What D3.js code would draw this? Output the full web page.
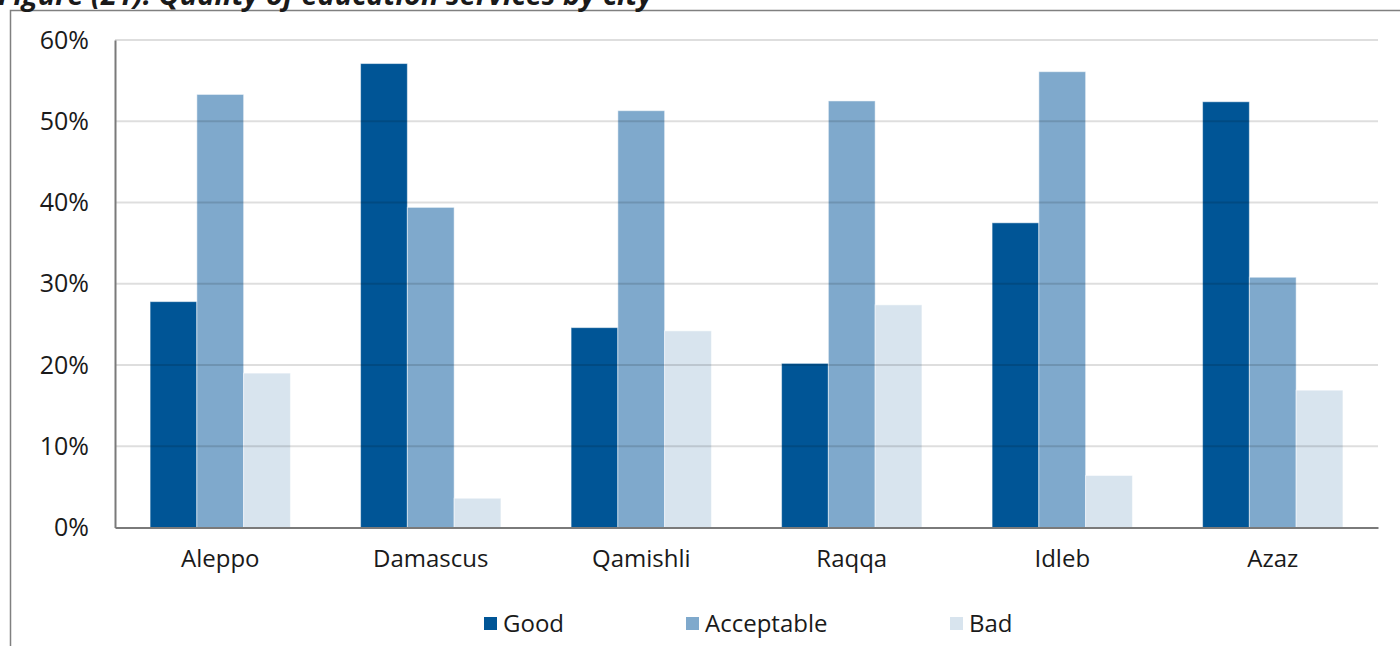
<!DOCTYPE html>
<head>
  <meta charset="utf-8">
  <script src="https://cdn.jsdelivr.net/npm/d3@7"></script>
  <style>
    body { margin: 0; background: white; }
    text { font-family: "Open Sans", "Noto Sans", sans-serif; fill: #1a1a1a; }
    .frame { fill: none; stroke: #808080; stroke-width: 1.5; }
  </style>
</head>

<body>
  <script>
const W = 1400;
const H = 646;

// data (percent)
const cities = ["Aleppo", "Damascus", "Qamishli", "Raqqa", "Idleb", "Azaz"];
const series = ["Good", "Acceptable", "Bad"];
const good = [27.8, 57.1, 24.6, 20.2, 37.5, 52.4];
const acceptable = [53.3, 39.4, 51.3, 52.5, 56.1, 30.8];
const bad = [19.0, 3.6, 24.2, 27.4, 6.4, 16.9];
const yTicks = [0, 10, 20, 30, 40, 50, 60];
const colors = ["#005596", "#7fa9cc", "#d8e4ee"];
const title = "Figure (21): Quality of education services by city";

const values = [good, acceptable, bad];
const rows = cities.map((c, i) => ({city: c, vals: series.map((s, k) => ({key: s, v: values[k][i], k: k}))}));

const PL = 115, PR = 1378, PT = 40, PB = 527.5;

var svg = d3.select("body").append("svg")
  .attr("width", W)
  .attr("height", H);

//frame (left + top edges only, cut off by the picture)
svg.append("path")
  .attr("class", "frame")
  .attr("d", "M10.5," + H + "V10.5H" + W);

//title, mostly cropped off at the top (as in the source picture)
svg.append("text")
  .attr("x", -2)
  .attr("y", 5)
  .style("font-size", "29px")
  .style("font-weight", "bold")
  .style("font-style", "italic")
  .text(title);

var x0 = d3.scaleBand()
  .domain(cities)
  .range([PL, PR])
  .padding(0);

var x1 = d3.scaleBand()
  .domain(series)
  .range([0, x0.bandwidth()])
  .paddingInner(0)
  .paddingOuter(0.75);

var y = d3.scaleLinear()
  .domain([0, 60])
  .range([PB, PT]);

// bars
var groups = svg.append("g").selectAll("g")
  .data(rows)
  .join("g")
  .attr("transform", d => "translate(" + x0(d.city) + ",0)");

groups.selectAll("rect")
  .data(d => d.vals)
  .join("rect")
  .attr("x", d => x1(d.key))
  .attr("y", d => y(d.v))
  .attr("width", x1.bandwidth())
  .attr("height", d => y(0) - y(d.v))
  .attr("fill", d => colors[d.k])
  .attr("stroke", "rgba(255,255,255,0.5)")
  .attr("stroke-width", 1);

// gridlines sit on top of the bars, semi transparent
svg.append("g").selectAll("line")
  .data(yTicks.filter(t => t > 0))
  .join("line")
  .attr("x1", PL)
  .attr("x2", PR)
  .attr("y1", d => y(d))
  .attr("y2", d => y(d))
  .attr("stroke", "rgba(0,0,0,0.13)")
  .attr("stroke-width", 2);

// y axis
var yaxis = d3.axisLeft(y)
  .tickValues(yTicks)
  .tickFormat(d => d + "%")
  .tickSize(0)
  .tickPadding(26);

var yg = svg.append("g")
  .attr("transform", "translate(" + PL + ",0)")
  .call(yaxis);
yg.select(".domain").attr("stroke", "#7a7a7a").attr("stroke-width", 2);
yg.selectAll("text")
  .style("font-size", "25px")
  .style("font-family", null)
  .attr("fill", "#1a1a1a");

// x axis
var xaxis = d3.axisBottom(x0)
  .tickSize(0)
  .tickPadding(22);

var xg = svg.append("g")
  .attr("transform", "translate(0," + PB + ")")
  .call(xaxis);
xg.select(".domain").attr("stroke", "#7a7a7a").attr("stroke-width", 2);
xg.selectAll("text")
  .style("font-size", "24px")
  .style("font-family", null)
  .attr("fill", "#1a1a1a");

// legend
var legendX = [484, 686, 950];
var legend = svg.append("g").selectAll("g")
  .data(series)
  .join("g")
  .attr("transform", (d, i) => "translate(" + legendX[i] + ",617)");

legend.append("rect")
  .attr("width", 13)
  .attr("height", 13)
  .attr("fill", (d, i) => colors[i]);

legend.append("text")
  .attr("x", 19)
  .attr("y", 15)
  .style("font-size", "24px")
  .text(d => d);
  </script>
</body>
